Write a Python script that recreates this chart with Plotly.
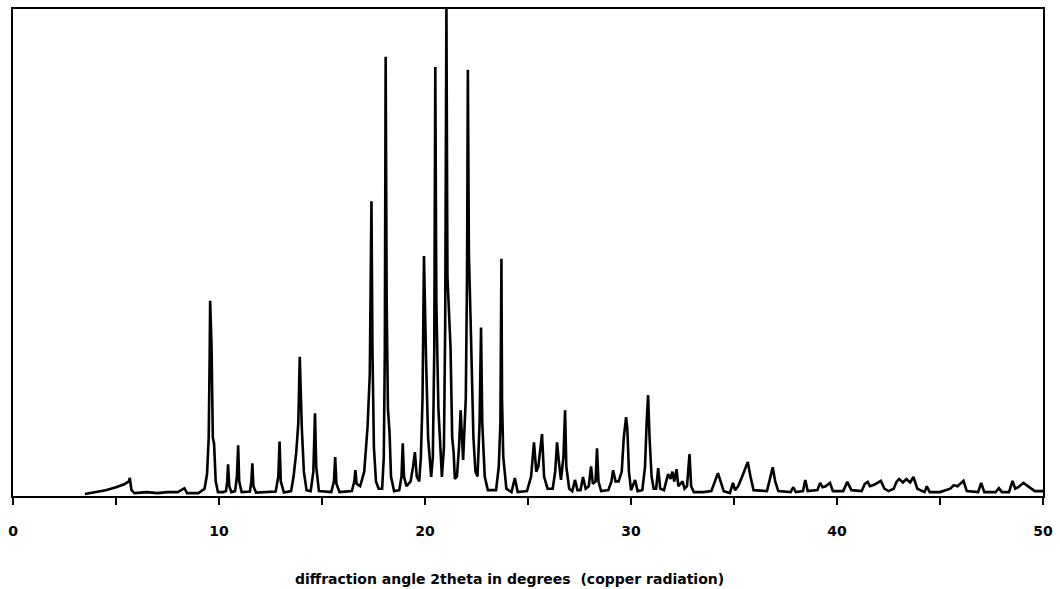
import plotly.graph_objects as go

# Powder X-ray diffraction pattern (Cu K-alpha): vertices of the trace,
# 2theta in degrees and relative intensity in percent of the strongest line.
two_theta = [
    3.49, 4.0, 4.5, 5.0, 5.4, 5.62, 5.67, 5.75, 5.9, 6.5, 7.0, 7.5, 8.0, 8.32, 8.45, 9.0,
    9.3, 9.42, 9.5, 9.55, 9.57, 9.64, 9.70, 9.76, 9.84, 9.95, 10.2,
    10.34, 10.40, 10.44, 10.50, 10.6,
    10.78, 10.87, 10.93, 10.98, 11.1,
    11.5, 11.57, 11.62, 11.67, 11.8,
    12.75, 12.88, 12.94, 13.0, 13.15,
    13.5, 13.62, 13.75, 13.85, 13.92, 13.97, 14.02, 14.12, 14.25,
    14.45, 14.58, 14.66, 14.72, 14.85,
    15.45, 15.58, 15.64, 15.70, 15.85,
    16.45, 16.57, 16.62, 16.68,
    16.85, 17.05, 17.21, 17.32, 17.40, 17.45, 17.52, 17.62, 17.75,
    17.92, 18.0, 18.05, 18.09, 18.14, 18.2, 18.28, 18.35, 18.5,
    18.75, 18.86, 18.92, 18.98, 19.1,
    19.3, 19.42, 19.51, 19.6, 19.72,
    19.8, 19.88, 19.95, 20.0, 20.05, 20.15, 20.3,
    20.38, 20.45, 20.50, 20.55, 20.65, 20.75, 20.82,
    20.92, 20.98, 21.04, 21.09, 21.24, 21.32, 21.39, 21.45,
    21.55, 21.65, 21.73, 21.8, 21.85,
    21.98, 22.04, 22.08, 22.13, 22.23, 22.35, 22.45,
    22.55, 22.65, 22.72, 22.78, 22.9, 23.05,
    23.45, 23.58, 23.66, 23.71, 23.74, 23.8, 23.95,
    24.2, 24.36, 24.5,
    24.95, 25.15, 25.29, 25.4, 25.5, 25.68, 25.78, 25.95,
    26.2, 26.32, 26.41, 26.5, 26.6, 26.72, 26.80, 26.86, 27.0,
    27.15, 27.28, 27.4,
    27.55, 27.67, 27.8,
    27.95, 28.06, 28.15,
    28.28, 28.35, 28.42, 28.55,
    28.9, 29.05, 29.13, 29.25, 29.4,
    29.55, 29.65, 29.76, 29.82, 29.9, 30.0,
    30.2, 30.32,
    30.55, 30.68, 30.76, 30.83, 30.9, 31.0, 31.1,
    31.22, 31.32, 31.42,
    31.6, 31.8, 31.92, 32.01, 32.1, 32.21, 32.3, 32.5, 32.6,
    32.72, 32.84, 32.92, 33.05,
    33.5,
    33.9, 34.1, 34.22, 34.35, 34.5,
    34.8, 34.95, 35.05,
    35.2, 35.35, 35.5, 35.67, 35.8, 35.95,
    36.6, 36.75, 36.88, 37.0, 37.15,
    37.75, 37.88, 38.0,
    38.35, 38.46, 38.58,
    39.05, 39.18, 39.3, 39.45, 39.66, 39.8,
    40.3, 40.5, 40.7,
    41.2, 41.35, 41.49, 41.6, 41.8, 42.13, 42.3, 42.5,
    42.75, 42.9, 43.02, 43.2, 43.37, 43.55, 43.71, 43.9, 44.1,
    44.25, 44.36, 44.5,
    45.0, 45.3,
    45.5, 45.67, 45.85, 46.14, 46.3,
    46.85, 47.0, 47.15,
    47.7, 47.86, 48.0,
    48.35, 48.52, 48.65, 48.8, 49.05, 49.3, 49.6, 50.0,
]

intensity = [
    0.4, 0.8, 1.2, 1.8, 2.4, 3.0, 3.7, 1.2, 0.6, 0.8, 0.6, 0.8, 0.8, 1.6, 0.6, 0.6,
    1.5, 4.5, 12.0, 30.0, 40.1, 30.5, 12.0, 10.8, 3.0, 0.8, 0.8,
    1.0, 3.0, 6.5, 2.0, 0.8,
    1.0, 4.0, 10.4, 3.0, 0.8,
    0.9, 3.0, 6.7, 2.0, 0.7,
    0.9, 4.0, 11.2, 3.0, 0.7,
    1.0, 4.0, 9.0, 15.0, 28.6, 20.0, 14.0, 5.0, 1.2,
    1.0, 5.0, 17.0, 6.0, 1.0,
    0.8, 3.0, 8.0, 2.5, 0.8,
    1.0, 3.0, 5.3, 2.5,
    2.0, 5.0, 14.1, 25.0, 60.5, 30.0, 10.0, 3.0, 1.5,
    1.5, 8.0, 30.0, 90.2, 40.0, 18.0, 12.9, 4.0, 1.0,
    1.2, 4.0, 10.8, 4.0, 2.0,
    3.0, 6.0, 9.0, 4.0, 3.0,
    8.0, 20.0, 49.3, 35.0, 28.4, 12.0, 3.9,
    8.0, 30.0, 88.1, 40.0, 18.0, 8.0, 3.9,
    10.0, 35.0, 100.0, 45.0, 30.5, 12.0, 9.0, 3.5,
    4.0, 10.0, 17.6, 12.0, 7.4,
    20.0, 45.0, 87.5, 50.0, 33.3, 12.0, 5.0,
    4.0, 15.0, 34.6, 15.0, 4.0, 1.2,
    1.2, 6.0, 15.0, 48.7, 19.6, 8.0, 1.5,
    0.8, 3.7, 0.8,
    1.0, 4.0, 11.0, 5.0, 6.0, 12.7, 4.0, 1.5,
    1.5, 5.0, 11.0, 7.0, 3.3, 8.0, 17.6, 6.0, 1.5,
    1.0, 3.3, 1.2,
    1.2, 3.9, 1.5,
    2.0, 6.1, 2.5,
    3.0, 9.8, 3.0, 1.0,
    1.2, 3.0, 5.3, 3.0, 3.0,
    5.0, 12.0, 16.2, 14.0, 5.0, 1.2,
    3.3, 1.0,
    1.2, 6.0, 15.1, 20.7, 12.0, 4.0, 1.5,
    1.5, 5.7, 1.5,
    1.2, 4.5, 3.5, 5.0, 3.0, 5.5, 2.0, 3.0, 1.5,
    2.0, 8.6, 2.0, 0.8,
    0.8,
    1.0, 3.5, 4.7, 3.0, 1.0,
    0.6, 2.7, 1.2,
    2.0, 3.5, 5.0, 7.0, 4.0, 1.2,
    1.0, 3.5, 5.9, 3.0, 1.0,
    0.8, 1.8, 0.8,
    1.0, 3.3, 1.0,
    1.2, 2.7, 1.8, 2.0, 2.7, 1.0,
    1.0, 2.9, 1.2,
    1.0, 2.5, 2.9, 2.0, 2.3, 3.1, 1.5, 1.0,
    1.5, 3.0, 3.5, 2.8, 3.5, 2.8, 3.9, 1.5, 1.0,
    0.8, 2.0, 0.8,
    0.8, 1.2,
    1.5, 2.2, 2.0, 3.1, 1.0,
    0.8, 2.7, 0.8,
    0.8, 1.6, 0.8,
    0.8, 3.1, 1.5, 1.8, 2.7, 2.0, 1.0, 1.0,
]

tick_values = [0, 5, 10, 15, 20, 25, 30, 35, 40, 45, 50]
tick_labels = ["0", "", "10", "", "20", "", "30", "", "40", "", "50"]
x_title = "diffraction angle 2theta in degrees  (copper radiation)"

fig = go.Figure(
    go.Scatter(
        x=two_theta,
        y=intensity,
        mode="lines",
        line=dict(color="black", width=2.6),
        hoverinfo="skip",
    )
)

fig.update_layout(
    width=1060,
    height=589,
    margin=dict(l=13, r=17, t=7, b=93),
    paper_bgcolor="white",
    plot_bgcolor="white",
    showlegend=False,
    xaxis=dict(
        range=[0, 50],
        tickmode="array",
        tickvals=tick_values,
        ticktext=tick_labels,
        ticks="outside",
        ticklen=7,
        tickwidth=1.5,
        tickcolor="black",
        ticklabelstandoff=14,
        tickfont=dict(family="DejaVu Sans", size=14, color="black", weight="bold"),
        showline=True,
        linecolor="black",
        linewidth=2,
        mirror=True,
        showgrid=False,
        zeroline=False,
    ),
    yaxis=dict(
        range=[0, 100],
        showticklabels=False,
        ticks="",
        showline=True,
        linecolor="black",
        linewidth=2,
        mirror=True,
        showgrid=False,
        zeroline=False,
    ),
    annotations=[
        dict(
            text=x_title,
            xref="paper",
            yref="paper",
            x=0.4825,
            y=-0.17,
            xanchor="center",
            yanchor="middle",
            showarrow=False,
            font=dict(family="DejaVu Sans", size=14, color="black", weight="bold"),
        )
    ],
)

fig.write_html("out.html")
